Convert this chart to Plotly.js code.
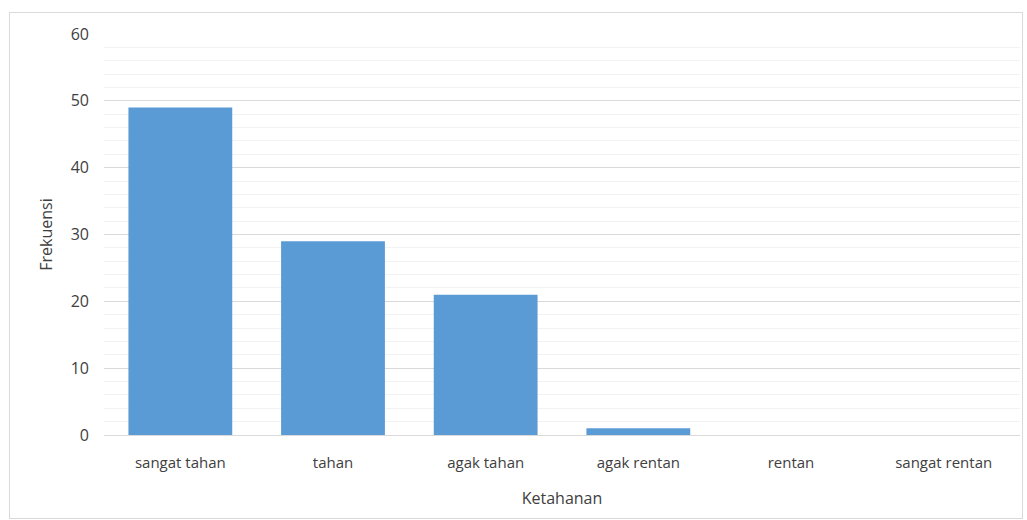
<!DOCTYPE html>
<html>
<head>
<meta charset="utf-8">
<script src="https://cdn.plot.ly/plotly-3.0.1.min.js"></script>
<style>
html,body{margin:0;padding:0;background:#fff;}
#wrap{position:relative;width:1027px;height:520px;}
#chart{position:absolute;left:0;top:0;width:1027px;height:520px;}
#frame{position:absolute;left:9px;top:12px;width:1012px;height:505px;border:1px solid #d9d9d9;pointer-events:none;}
</style>
</head>
<body>
<div id="wrap"><div id="chart"></div><div id="frame"></div></div>
<script>
const categories = ["sangat tahan", "tahan", "agak tahan", "agak rentan", "rentan", "sangat rentan"];
const frekuensi = [49, 29, 21, 1, 0, 0];
const yTicks = [0, 10, 20, 30, 40, 50, 60];

const fontFam = "Open Sans, Noto Sans, sans-serif";
const trace = {
  type: "bar",
  x: categories,
  y: frekuensi,
  marker: {color: "#5b9bd5"},
  hoverinfo: "x+y"
};
const layout = {
  width: 1027, height: 520,
  margin: {l: 104, r: 7, t: 34, b: 85},
  paper_bgcolor: "#ffffff",
  plot_bgcolor: "#ffffff",
  bargap: 0.32,
  showlegend: false,
  font: {family: fontFam, color: "#404040", size: 15},
  xaxis: {
    type: "category",
    title: {text: "Ketahanan", font: {size: 16, color: "#404040"}, standoff: 21},
    tickfont: {size: 15, color: "#404040"},
    showgrid: false,
    showline: true, linecolor: "#d9d9d9", linewidth: 1,
    ticks: "", ticklen: 0, ticklabelstandoff: 14,
    zeroline: false
  },
  yaxis: {
    title: {text: "Frekuensi", font: {size: 16, color: "#404040"}, standoff: 14},
    range: [0, 60],
    tickvals: yTicks,
    ticktext: yTicks.map(String),
    tickfont: {size: 16, color: "#404040"},
    showgrid: true, gridcolor: "#d9d9d9", gridwidth: 1,
    minor: {dtick: 2, showgrid: true, gridcolor: "#f2f2f2", gridwidth: 1},
    zeroline: false,
    ticks: "", ticklabelstandoff: 14
  }
};
Plotly.newPlot("chart", [trace], layout, {displayModeBar: false, staticPlot: true});
</script>
</body>
</html>
